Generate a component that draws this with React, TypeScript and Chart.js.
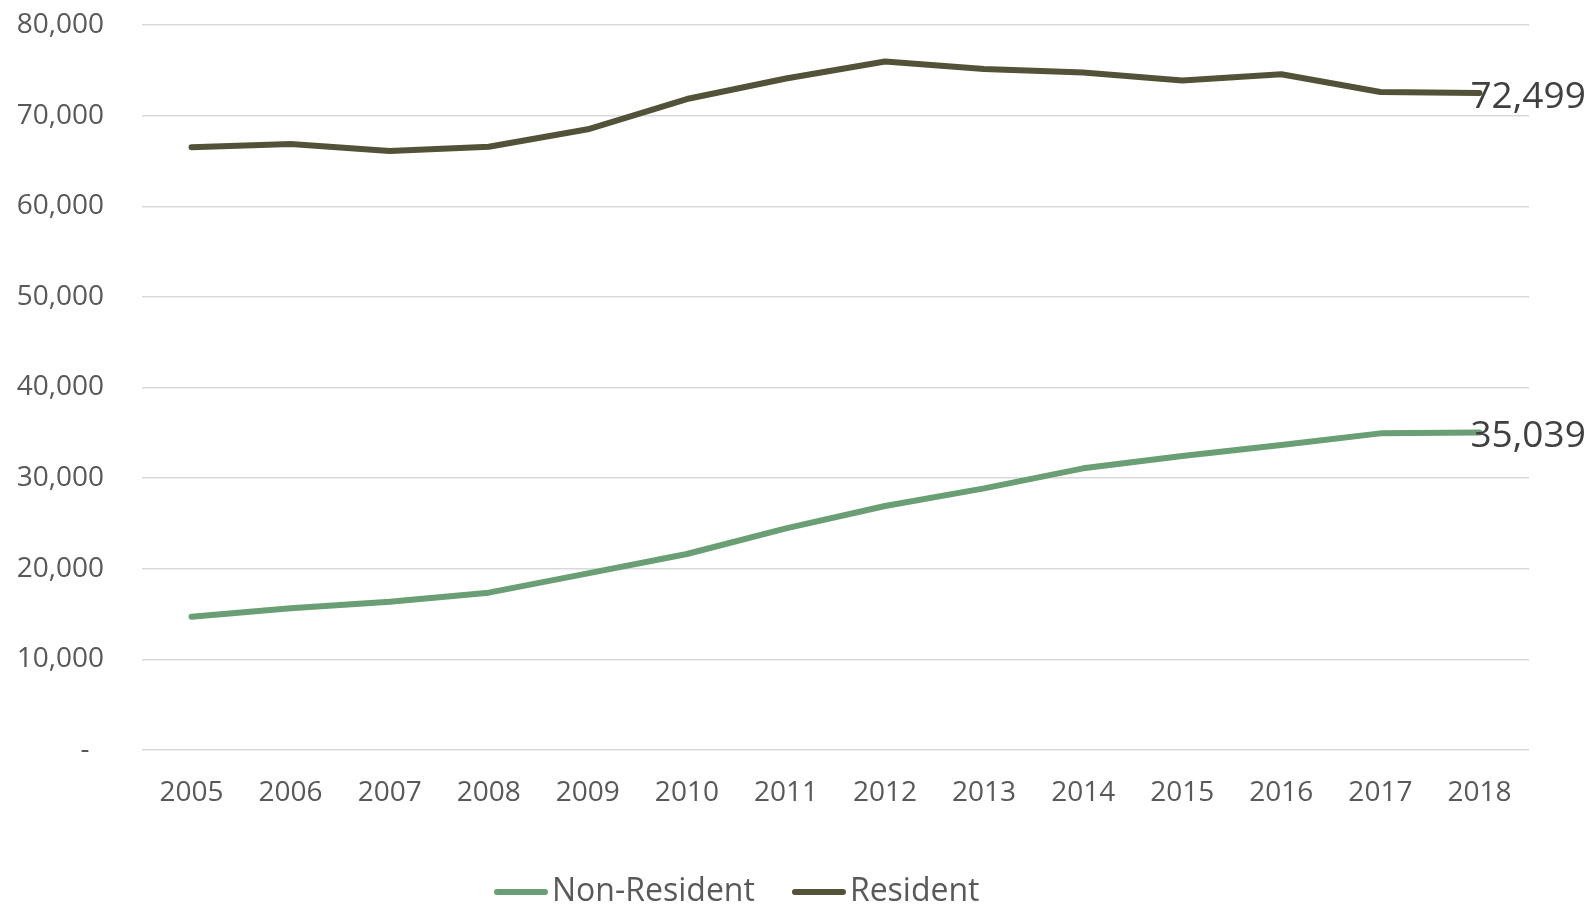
import React, { useEffect, useRef } from 'react';
import { Chart, registerables } from 'chart.js';

Chart.register(...registerables);

const years = ['2005', '2006', '2007', '2008', '2009', '2010', '2011', '2012', '2013', '2014', '2015', '2016', '2017', '2018'];
const nonResident = [14710, 15630, 16370, 17360, 19490, 21630, 24460, 26920, 28870, 31080, 32440, 33650, 34940, 35039];
const resident = [66510, 66870, 66100, 66570, 68490, 71830, 74100, 75980, 75150, 74760, 73880, 74560, 72600, 72499];
const seriesNames = ['Non-Resident', 'Resident'];
const seriesColors = ['#6A9E74', '#525239'];
const yMin = 0;
const yMax = 80000;
const yStep = 10000;

const FONT = '"Open Sans", "Liberation Sans", sans-serif';

function makeLegendLine(color: string): HTMLCanvasElement {
  const c = document.createElement('canvas');
  c.width = 54;
  c.height = 8;
  const g = c.getContext('2d')!;
  g.strokeStyle = color;
  g.lineWidth = 6;
  g.lineCap = 'round';
  g.beginPath();
  g.moveTo(3, 4);
  g.lineTo(51, 4);
  g.stroke();
  return c;
}

const endLabelPlugin = {
  id: 'endLabels',
  afterDatasetsDraw(chart: any) {
    const ctx = chart.ctx;
    ctx.save();
    ctx.font = `37px ${FONT}`;
    ctx.fillStyle = '#404040';
    ctx.textAlign = 'left';
    ctx.textBaseline = 'alphabetic';
    chart.data.datasets.forEach((ds: any, i: number) => {
      const meta = chart.getDatasetMeta(i);
      const last = meta.data[meta.data.length - 1];
      if (!last) return;
      const v = ds.data[ds.data.length - 1];
      ctx.fillText(Number(v).toLocaleString('en-US'), last.x - 9, last.y + 15);
    });
    ctx.restore();
  },
};

const legendShiftPlugin = {
  id: 'legendShift',
  afterLayout(chart: any) {
    const lg = chart.legend;
    if (!lg || !lg.lineWidths) return;
    const pad = lg.options.labels.padding;
    const start = (lg.left + pad + lg.right - lg.lineWidths[0]) / 2;
    const dx = 506 - start;
    lg.left += dx;
    lg.right += dx;
  },
};

export default function App() {
  const ref = useRef<HTMLCanvasElement | null>(null);

  useEffect(() => {
    if (!ref.current) return;
    const legendImgs = seriesColors.map(makeLegendLine);
    const chart = new Chart(ref.current, {
      type: 'line',
      data: {
        labels: years,
        datasets: [
          {
            label: seriesNames[0],
            data: nonResident,
            borderColor: seriesColors[0],
            backgroundColor: seriesColors[0],
            borderWidth: 6,
            borderCapStyle: 'round',
            borderJoinStyle: 'round',
            pointRadius: 0,
            tension: 0,
            fill: false,
          },
          {
            label: seriesNames[1],
            data: resident,
            borderColor: seriesColors[1],
            backgroundColor: seriesColors[1],
            borderWidth: 6,
            borderCapStyle: 'round',
            borderJoinStyle: 'round',
            pointRadius: 0,
            tension: 0,
            fill: false,
          },
        ],
      },
      options: {
        responsive: false,
        animation: false,
        devicePixelRatio: 1,
        layout: { padding: { left: 0, right: 62, top: 25, bottom: -14 } },
        plugins: {
          tooltip: { enabled: false },
          legend: {
            display: true,
            position: 'bottom',
            labels: {
              usePointStyle: true,
              boxWidth: 30,
              padding: 49,
              color: '#595959',
              font: { family: FONT, size: 32 },
              generateLabels: (c: any) =>
                Chart.defaults.plugins.legend.labels.generateLabels(c).map((l: any) => ({
                  ...l,
                  pointStyle: legendImgs[l.datasetIndex],
                })),
            },
          },
        },
        scales: {
          x: {
            offset: true,
            grid: { display: false, drawTicks: false },
            border: { display: false },
            ticks: {
              color: '#595959',
              font: { family: FONT, size: 28 },
              padding: 26,
              maxRotation: 0,
              autoSkip: false,
            },
            afterFit: (s: any) => {
              s.height = 77;
            },
          },
          y: {
            min: yMin,
            max: yMax,
            grid: {
              color: '#d9d9d9',
              lineWidth: 1.5,
              drawTicks: true,
              tickLength: 36,
              tickColor: 'rgba(0,0,0,0)',
            },
            border: { display: false },
            ticks: {
              stepSize: yStep,
              color: '#595959',
              font: { family: FONT, size: 28 },
              padding: 2,
              callback: (v: any) => (Number(v) === 0 ? '-  ' : Number(v).toLocaleString('en-US')),
            },
            afterFit: (s: any) => {
              s.width = 142;
            },
          },
        },
      },
      plugins: [endLabelPlugin, legendShiftPlugin],
    } as any);
    return () => chart.destroy();
  }, []);

  return (
    <div style={{ position: 'fixed', left: 0, top: 0, width: 1591, height: 904, background: '#fff' }}>
      <canvas ref={ref} width={1591} height={904} style={{ display: 'block' }} />
    </div>
  );
}
